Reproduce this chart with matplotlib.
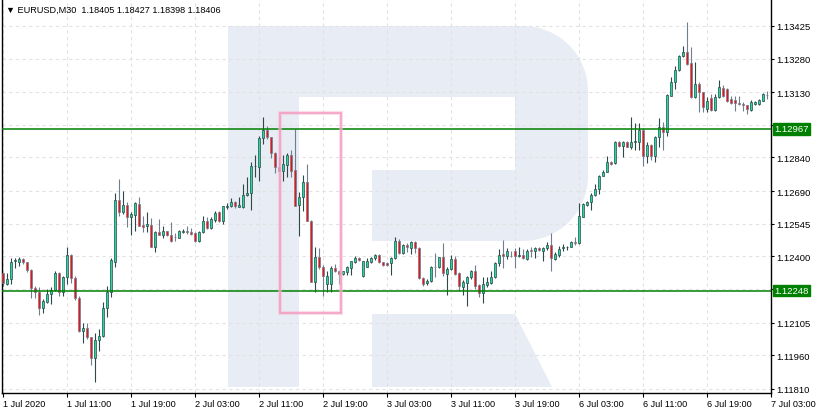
import numpy as np
import matplotlib
matplotlib.use("Agg")
import matplotlib.pyplot as plt
from matplotlib.patches import Polygon, Rectangle

# EURUSD M30 candles, 1 Jul 2020 03:00 .. 7 Jul 2020 02:30 (one row per bar)
opens = [
    1.12325, 1.12278, 1.12298, 1.12379, 1.12376, 1.12388, 1.12373, 1.12338, 1.12258, 1.12243,
    1.12169, 1.12198, 1.12231, 1.12252, 1.12325, 1.12240, 1.12307, 1.12406, 1.12302, 1.12213,
    1.12066, 1.12081, 1.12040, 1.11946, 1.12028, 1.12044, 1.12169, 1.12243, 1.12376, 1.12651,
    1.12599, 1.12628, 1.12574, 1.12585, 1.12633, 1.12539, 1.12536, 1.12539, 1.12440, 1.12510,
    1.12495, 1.12511, 1.12495, 1.12487, 1.12483, 1.12508, 1.12511, 1.12507, 1.12504, 1.12470,
    1.12507, 1.12556, 1.12525, 1.12563, 1.12596, 1.12559, 1.12618, 1.12623, 1.12640, 1.12621,
    1.12621, 1.12673, 1.12681, 1.12801, 1.12796, 1.12927, 1.12964, 1.12930, 1.12860, 1.12796,
    1.12781, 1.12808, 1.12851, 1.12784, 1.12628, 1.12663, 1.12730, 1.12559, 1.12285, 1.12396,
    1.12351, 1.12276, 1.12276, 1.12347, 1.12336, 1.12321, 1.12329, 1.12347, 1.12376, 1.12393,
    1.12311, 1.12354, 1.12376, 1.12391, 1.12407, 1.12373, 1.12369, 1.12369, 1.12393, 1.12467,
    1.12414, 1.12450, 1.12437, 1.12462, 1.12437, 1.12304, 1.12280, 1.12289, 1.12354, 1.12351,
    1.12396, 1.12321, 1.12344, 1.12388, 1.12326, 1.12265, 1.12281, 1.12307, 1.12333, 1.12274,
    1.12236, 1.12272, 1.12281, 1.12307, 1.12369, 1.12409, 1.12403, 1.12403, 1.12422, 1.12403,
    1.12407, 1.12388, 1.12428, 1.12422, 1.12437, 1.12425, 1.12437, 1.12450, 1.12388, 1.12407,
    1.12437, 1.12440, 1.12443, 1.12462, 1.12458, 1.12576, 1.12628, 1.12640, 1.12673, 1.12700,
    1.12759, 1.12777, 1.12819, 1.12814, 1.12908, 1.12890, 1.12910, 1.12885, 1.12908, 1.12910,
    1.12964, 1.12848, 1.12895, 1.12845, 1.12930, 1.12974, 1.12952, 1.13115, 1.13177, 1.13229,
    1.13290, 1.13308, 1.13260, 1.13108, 1.13167, 1.13130, 1.13056, 1.13103, 1.13053, 1.13108,
    1.13148, 1.13145, 1.13100, 1.13097, 1.13081, 1.13079, 1.13073, 1.13053, 1.13078, 1.13078,
    1.13093, 1.13119,
]
highs = [
    1.12327, 1.12326, 1.12391, 1.12391, 1.12396, 1.12391, 1.12376, 1.12342, 1.12267, 1.12262,
    1.12210, 1.12255, 1.12262, 1.12335, 1.12329, 1.12314, 1.12440, 1.12410, 1.12314, 1.12225,
    1.12103, 1.12103, 1.12041, 1.12059, 1.12077, 1.12198, 1.12267, 1.12391, 1.12682, 1.12744,
    1.12689, 1.12640, 1.12599, 1.12643, 1.12663, 1.12581, 1.12599, 1.12571, 1.12514, 1.12566,
    1.12534, 1.12514, 1.12551, 1.12502, 1.12518, 1.12522, 1.12536, 1.12526, 1.12510, 1.12514,
    1.12578, 1.12574, 1.12574, 1.12603, 1.12603, 1.12625, 1.12636, 1.12658, 1.12648, 1.12664,
    1.12722, 1.12752, 1.12819, 1.12851, 1.12934, 1.13019, 1.12979, 1.12930, 1.12863, 1.12841,
    1.12851, 1.12859, 1.12875, 1.12967, 1.12685, 1.12762, 1.12811, 1.12562, 1.12440, 1.12436,
    1.12361, 1.12336, 1.12358, 1.12366, 1.12341, 1.12336, 1.12356, 1.12381, 1.12403, 1.12396,
    1.12381, 1.12393, 1.12398, 1.12410, 1.12410, 1.12376, 1.12373, 1.12398, 1.12487, 1.12477,
    1.12455, 1.12459, 1.12467, 1.12467, 1.12440, 1.12307, 1.12299, 1.12358, 1.12414, 1.12398,
    1.12458, 1.12351, 1.12407, 1.12403, 1.12329, 1.12295, 1.12314, 1.12339, 1.12361, 1.12277,
    1.12307, 1.12307, 1.12336, 1.12373, 1.12433, 1.12473, 1.12437, 1.12425, 1.12437, 1.12440,
    1.12433, 1.12433, 1.12440, 1.12443, 1.12443, 1.12443, 1.12462, 1.12502, 1.12418, 1.12447,
    1.12455, 1.12447, 1.12470, 1.12485, 1.12637, 1.12637, 1.12645, 1.12681, 1.12722, 1.12762,
    1.12784, 1.12845, 1.12826, 1.12915, 1.12915, 1.12915, 1.12915, 1.13019, 1.12993, 1.12993,
    1.12970, 1.12908, 1.12900, 1.12934, 1.13014, 1.12999, 1.13122, 1.13197, 1.13248, 1.13296,
    1.13335, 1.13444, 1.13330, 1.13266, 1.13174, 1.13133, 1.13108, 1.13122, 1.13122, 1.13185,
    1.13162, 1.13148, 1.13115, 1.13115, 1.13115, 1.13085, 1.13073, 1.13096, 1.13093, 1.13100,
    1.13127, 1.13134,
]
lows = [
    1.12267, 1.12274, 1.12277, 1.12347, 1.12356, 1.12366, 1.12329, 1.12213, 1.12213, 1.12140,
    1.12147, 1.12192, 1.12189, 1.12247, 1.12225, 1.12225, 1.12277, 1.12280, 1.12207, 1.12065,
    1.12013, 1.12032, 1.11918, 1.11840, 1.11980, 1.12040, 1.12129, 1.12220, 1.12354, 1.12581,
    1.12588, 1.12529, 1.12496, 1.12514, 1.12536, 1.12510, 1.12510, 1.12442, 1.12421, 1.12495,
    1.12482, 1.12492, 1.12462, 1.12470, 1.12482, 1.12502, 1.12499, 1.12495, 1.12465, 1.12465,
    1.12502, 1.12522, 1.12522, 1.12554, 1.12551, 1.12544, 1.12611, 1.12618, 1.12614, 1.12618,
    1.12614, 1.12667, 1.12608, 1.12752, 1.12737, 1.12900, 1.12922, 1.12836, 1.12771, 1.12774,
    1.12737, 1.12752, 1.12752, 1.12625, 1.12492, 1.12603, 1.12556, 1.12285, 1.12243, 1.12344,
    1.12225, 1.12240, 1.12243, 1.12329, 1.12277, 1.12317, 1.12317, 1.12318, 1.12370, 1.12381,
    1.12307, 1.12351, 1.12370, 1.12385, 1.12370, 1.12358, 1.12358, 1.12318, 1.12388, 1.12410,
    1.12410, 1.12418, 1.12410, 1.12414, 1.12299, 1.12269, 1.12274, 1.12285, 1.12307, 1.12347,
    1.12314, 1.12229, 1.12339, 1.12318, 1.12247, 1.12229, 1.12180, 1.12299, 1.12255, 1.12220,
    1.12191, 1.12262, 1.12277, 1.12302, 1.12358, 1.12348, 1.12388, 1.12396, 1.12347, 1.12398,
    1.12388, 1.12384, 1.12396, 1.12391, 1.12422, 1.12381, 1.12428, 1.12336, 1.12384, 1.12396,
    1.12425, 1.12428, 1.12440, 1.12452, 1.12455, 1.12574, 1.12625, 1.12608, 1.12670, 1.12677,
    1.12756, 1.12774, 1.12808, 1.12811, 1.12885, 1.12841, 1.12885, 1.12878, 1.12875, 1.12875,
    1.12801, 1.12814, 1.12830, 1.12819, 1.12888, 1.12875, 1.12937, 1.13112, 1.13145, 1.13226,
    1.13286, 1.13253, 1.13103, 1.13103, 1.13041, 1.13041, 1.13041, 1.13048, 1.13048, 1.13103,
    1.13108, 1.13085, 1.13078, 1.13048, 1.13073, 1.13048, 1.13033, 1.13048, 1.13073, 1.13073,
    1.13093, 1.13100,
]
closes = [
    1.12280, 1.12299, 1.12373, 1.12384, 1.12388, 1.12373, 1.12338, 1.12258, 1.12243, 1.12169,
    1.12200, 1.12231, 1.12252, 1.12325, 1.12240, 1.12307, 1.12406, 1.12302, 1.12213, 1.12066,
    1.12081, 1.12040, 1.11946, 1.12028, 1.12047, 1.12169, 1.12243, 1.12384, 1.12651, 1.12596,
    1.12628, 1.12574, 1.12588, 1.12636, 1.12536, 1.12532, 1.12544, 1.12443, 1.12507, 1.12496,
    1.12513, 1.12495, 1.12470, 1.12485, 1.12513, 1.12511, 1.12507, 1.12499, 1.12470, 1.12507,
    1.12556, 1.12525, 1.12566, 1.12592, 1.12559, 1.12623, 1.12624, 1.12640, 1.12623, 1.12628,
    1.12673, 1.12682, 1.12801, 1.12802, 1.12927, 1.12964, 1.12930, 1.12860, 1.12796, 1.12781,
    1.12811, 1.12851, 1.12781, 1.12625, 1.12663, 1.12730, 1.12556, 1.12285, 1.12396, 1.12351,
    1.12314, 1.12314, 1.12347, 1.12336, 1.12321, 1.12333, 1.12351, 1.12378, 1.12393, 1.12384,
    1.12378, 1.12378, 1.12393, 1.12406, 1.12373, 1.12363, 1.12363, 1.12393, 1.12467, 1.12414,
    1.12452, 1.12440, 1.12462, 1.12437, 1.12304, 1.12277, 1.12292, 1.12354, 1.12351, 1.12396,
    1.12325, 1.12344, 1.12388, 1.12321, 1.12267, 1.12285, 1.12309, 1.12333, 1.12269, 1.12236,
    1.12277, 1.12285, 1.12309, 1.12369, 1.12406, 1.12403, 1.12425, 1.12400, 1.12403, 1.12406,
    1.12393, 1.12422, 1.12425, 1.12437, 1.12428, 1.12437, 1.12450, 1.12391, 1.12410, 1.12433,
    1.12440, 1.12441, 1.12462, 1.12458, 1.12578, 1.12633, 1.12640, 1.12673, 1.12700, 1.12759,
    1.12777, 1.12819, 1.12811, 1.12908, 1.12890, 1.12910, 1.12888, 1.12908, 1.12912, 1.12964,
    1.12845, 1.12895, 1.12845, 1.12930, 1.12974, 1.12952, 1.13118, 1.13177, 1.13229, 1.13290,
    1.13308, 1.13256, 1.13108, 1.13167, 1.13133, 1.13063, 1.13093, 1.13053, 1.13108, 1.13152,
    1.13112, 1.13093, 1.13081, 1.13081, 1.13077, 1.13073, 1.13056, 1.13085, 1.13085, 1.13096,
    1.13122, 1.13117,
]

x_labels = ["1 Jul 2020", "1 Jul 11:00", "1 Jul 19:00", "2 Jul 03:00", "2 Jul 11:00",
            "2 Jul 19:00", "3 Jul 03:00", "3 Jul 11:00", "3 Jul 19:00", "6 Jul 03:00",
            "6 Jul 11:00", "6 Jul 19:00", "7 Jul 03:00"]
bars_per_label = 16
y_ticks = [1.13425, 1.13280, 1.13130, 1.12985, 1.12840, 1.12690, 1.12545,
           1.12400, 1.12255, 1.12105, 1.11960, 1.11810]
levels = [1.12967, 1.12248]
box_bars = (69.3, 84.5)
box_prices = (1.12148, 1.13038)
header = "\u25BC EURUSD,M30  1.18405 1.18427 1.18398 1.18406"

W, H = 817, 414
plt.rcParams["font.family"] = ["Liberation Sans", "DejaVu Sans"]
fig = plt.figure(figsize=(W / 100, H / 100), dpi=100)
ax = fig.add_axes([2 / W, 20 / H, 769 / W, 394 / H])
ax.set_facecolor("white")

# watermark "R" drawn in figure pixels
wm = "#e8ecf4"

def px(points):
    return [(x / W, 1 - y / H) for x, y in points]

r = 65
t = np.linspace(0, np.pi / 2, 20)
bowl = [(228, 27), (523, 27)]
bowl += [(523 + r * np.sin(a), 92 - r * np.cos(a)) for a in t]
bowl += [(588, 177)]
bowl += [(523 + r * np.cos(a), 177 + r * np.sin(a)) for a in t]
bowl += [(228, 242)]
shapes = [
    (bowl, wm, 0.1),
    ([(228, 27), (299, 27), (299, 388), (228, 388)], wm, 0.1),
    ([(372, 315), (515, 315), (552, 388), (372, 388)], wm, 0.1),
    ([(299, 98), (515, 98), (515, 171), (372, 171), (372, 242), (299, 242)], "white", 0.2),
]
for pts, col, z in shapes:
    ax.add_patch(Polygon(px(pts), closed=True, transform=fig.transFigure,
                         facecolor=col, edgecolor="none", zorder=z))

o = np.array(opens)
h = np.array(highs)
l = np.array(lows)
c = np.array(closes)
x = np.arange(len(o))
up = c >= o

ax.vlines(x[up], l[up], h[up], color="#2c4848", lw=0.8, zorder=2)
ax.vlines(x[~up], l[~up], h[~up], color="#6f7f90", lw=0.8, zorder=2)
ax.bar(x[up], (c - o)[up], bottom=o[up], width=0.72, color="#22d9a0",
       edgecolor="#2c4848", linewidth=0.5, zorder=3)
ax.bar(x[~up], (o - c)[~up], bottom=c[~up], width=0.72, color="#ee1111",
       edgecolor="#6f7f90", linewidth=0.5, zorder=3)

for lv in levels:
    ax.axhline(lv, color="#008000", lw=1.1, zorder=4)
    ax.annotate(f"{lv:.5f}", xy=(1, lv), xycoords=("axes fraction", "data"),
                xytext=(3, 0), textcoords="offset pixels", ha="left", va="center",
                color="white", fontsize=6.8, zorder=6, annotation_clip=False,
                bbox=dict(boxstyle="square,pad=0.14", fc="#008000", ec="#008000"))

# highlighted area
bx0, bx1 = box_bars
by0, by1 = box_prices
ax.add_patch(Rectangle((bx0, by0), bx1 - bx0, by1 - by0, fill=False,
                       edgecolor="#f7c0d6", lw=3.0, alpha=0.5, zorder=4.5))
ax.add_patch(Rectangle((bx0, by0), bx1 - bx0, by1 - by0, fill=False,
                       edgecolor="#f49ac0", lw=1.1, zorder=4.6))

ax.set_xlim(-0.25, 192)
ax.set_ylim(1.117922, 1.135451)

ax.set_xticks(np.arange(len(x_labels)) * bars_per_label)
ax.set_xticklabels(x_labels, ha="left")
ax.yaxis.tick_right()
ax.set_yticks(y_ticks)
# the two ticks sitting under the level boxes are hidden by them in the original
hidden = [min(y_ticks, key=lambda v: abs(v - lv)) for lv in levels]
ax.set_yticklabels(["" if v in hidden else f"{v:.5f}" for v in y_ticks])
ax.tick_params(axis="x", length=3, width=0.8, pad=1.5, labelsize=6.6, direction="out")
ax.tick_params(axis="y", length=2.5, width=0.8, pad=1.5, labelsize=6.8, direction="out")
ax.set_axisbelow(True)
ax.grid(True, color="#e2e2e2", linestyle=(0, (3, 3)), lw=0.8)

for side in ["left", "bottom", "right"]:
    ax.spines[side].set_color("black")
    ax.spines[side].set_linewidth(1.0)
ax.spines["top"].set_visible(False)

fig.text(6 / W, 1 - 10 / H, header, fontsize=6.6, va="center", ha="left")

fig.savefig("out.png", dpi=100)
